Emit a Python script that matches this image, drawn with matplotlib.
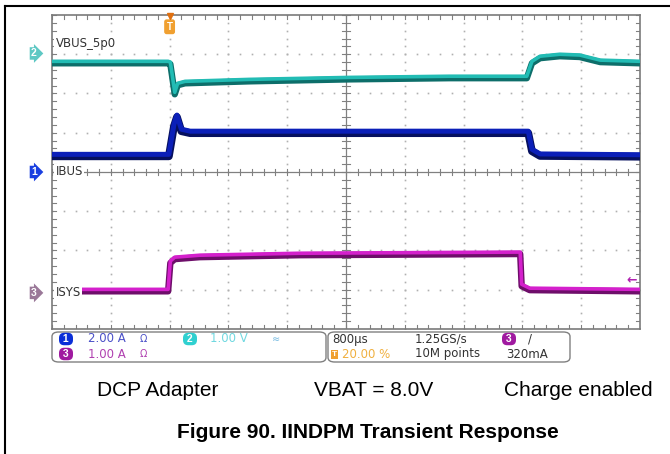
import numpy as np
import matplotlib.pyplot as plt
from matplotlib.patches import FancyBboxPatch

plt.rcParams['font.family'] = ['Liberation Sans', 'DejaVu Sans']

# Scope traces: time in ms (800 us/div, trigger at 20 %), level in divisions from screen centre
vbus_t = [-1.60, -0.02, 0.01, 0.07, 0.11, 0.21, 1.09, 2.45, 3.81, 4.86, 4.93, 5.04, 5.31, 5.58, 5.86, 6.40]
vbus_v = [2.80, 2.80, 2.78, 2.01, 2.24, 2.29, 2.34, 2.39, 2.42, 2.42, 2.80, 2.93, 2.98, 2.96, 2.83, 2.80]

ibus_t = [-1.60, -0.01, 0.06, 0.10, 0.16, 0.28, 4.88, 4.93, 5.04, 6.40]
ibus_v = [0.43, 0.43, 1.20, 1.43, 1.07, 1.02, 1.02, 0.56, 0.44, 0.42]

isys_t = [-1.22, -0.02, 0.01, 0.07, 0.41, 1.77, 4.77, 4.79, 4.90, 6.40]
isys_v = [-3.01, -3.01, -2.29, -2.19, -2.14, -2.09, -2.06, -2.88, -2.98, -3.01]

ch_labels = ['VBUS_5p0', 'IBUS', 'ISYS']
ch_offsets = [3.02, 0.0, -3.08]
trig_level = -2.75

caption = ['DCP Adapter', 'VBAT = 8.0V', 'Charge enabled']
title = 'Figure 90. IINDPM Transient Response'

W, H = 670, 454
fig = plt.figure(figsize=(W / 100, H / 100), dpi=100)


def fx(x):
    return x / W


def fy(y):
    return 1 - y / H


# outer frame
fig.add_artist(plt.Line2D([fx(5), fx(5)], [fy(6), fy(454)], color='black', lw=1.5))
fig.add_artist(plt.Line2D([fx(5), fx(670)], [fy(6), fy(6)], color='black', lw=1.5))

left, top, right, bottom = 52, 15, 640, 329
ax = fig.add_axes([fx(left), fy(bottom), (right - left) / W, (bottom - top) / H])
t0, t1 = -1.6, 6.4
ax.set_xlim(t0, t1)
ax.set_ylim(-4, 4)
ax.set_xticks([])
ax.set_yticks([])
for s in ax.spines.values():
    s.set_color('#7a7a7a')
    s.set_linewidth(1.2)

# dotted graticule
xdiv = 0.8
gx = [t0 + xdiv * i for i in range(1, 10) if i != 5]
gy = [j for j in range(-3, 4) if j != 0]
minor_x = np.arange(t0, t1 + 1e-9, xdiv / 5)
minor_y = np.arange(-4, 4 + 1e-9, 0.2)
for x in gx:
    ax.plot(np.full_like(minor_y, x), minor_y, ls='none', marker='s', ms=1.2, color='#b0b0b0', mec='none')
for y in gy:
    ax.plot(minor_x, np.full_like(minor_x, y), ls='none', marker='s', ms=1.2, color='#b0b0b0', mec='none')

# centre cross with ticks
tc = t0 + 5 * xdiv
ax.axhline(0, color='#808080', lw=0.9)
ax.axvline(tc, color='#808080', lw=0.9)
for x in minor_x:
    ax.plot([x, x], [-0.08, 0.08], color='#808080', lw=0.8)
    ax.plot([x, x], [-4, -3.9], color='#808080', lw=0.8)
    ax.plot([x, x], [4, 3.9], color='#808080', lw=0.8)
for y in minor_y:
    ax.plot([tc - 0.05, tc + 0.05], [y, y], color='#808080', lw=0.8)
    ax.plot([t0, t0 + 0.05], [y, y], color='#808080', lw=0.8)
    ax.plot([t1, t1 - 0.05], [y, y], color='#808080', lw=0.8)

# traces: dark edge plus coloured band
traces = [(vbus_t, vbus_v, '#22bcb4', '#0d6e6a', 4.0),
          (ibus_t, ibus_v, '#0b1fb8', '#06105e', 5.0),
          (isys_t, isys_v, '#d420cc', '#6e0e6a', 4.0)]
for t, v, c, dk, lw in traces:
    ax.plot(t, np.array(v) - 0.03, color=dk, lw=lw + 0.6, solid_joinstyle='round',
            solid_capstyle='butt', zorder=3)
    ax.plot(t, np.array(v) + 0.02, color=c, lw=lw - 1.4, solid_joinstyle='round',
            solid_capstyle='butt', zorder=4)

# channel labels inside graticule
for name, off in zip(ch_labels, ch_offsets):
    yy = off + (0.25 if name == 'VBUS_5p0' else 0.0)
    ax.text(t0 + 0.05, yy, name, fontsize=8.5, color='#333333', va='center', ha='left',
            family='DejaVu Sans', zorder=6,
            bbox=dict(boxstyle='square,pad=0.1', fc='white', ec='none'))

# channel markers left of graticule
markers = [('2', '#5ec8c4', ch_offsets[0]), ('1', '#1a3fe0', ch_offsets[1]), ('3', '#9a7898', ch_offsets[2])]
for num, c, off in markers:
    ax.text(-0.026, (off + 4) / 8, num, transform=ax.transAxes, fontsize=7.5, color='white',
            ha='right', va='center', fontweight='bold', clip_on=False,
            bbox=dict(boxstyle='rarrow,pad=0.12', fc=c, ec='none'))

# trigger marker and level
ax.text(0.0, 3.7, 'T', fontsize=7, color='white', fontweight='bold', ha='center', va='center',
        zorder=7, bbox=dict(boxstyle='round,pad=0.25', fc='#f0a030', ec='none'))
ax.plot([0.0], [3.97], marker='v', ms=5, color='#e07010', zorder=7, clip_on=False)
ax.text(t1 - 0.04, trig_level, '\u2190', fontsize=9, color='#b020b0', ha='right', va='center',
        fontweight='bold', zorder=7, family='DejaVu Sans')

# info boxes below graticule
for x0, x1 in [(52, 326), (328, 570)]:
    fig.add_artist(FancyBboxPatch((fx(x0), fy(362)), fx(x1 - x0), (362 - 332) / H,
                                  boxstyle='round,pad=0,rounding_size=0.01',
                                  transform=fig.transFigure, fc='white', ec='#808080', lw=1.0))


def pill(x, y, s, c):
    fig.text(fx(x), fy(y), s, fontsize=7.5, color='white', fontweight='bold', ha='center', va='center',
             bbox=dict(boxstyle='round,pad=0.12,rounding_size=0.5', fc=c, ec='none'))


pill(66, 339, ' 1 ', '#0a2fd8')
pill(66, 354, ' 3 ', '#a01aa0')
pill(190, 339, ' 2 ', '#30d0d0')
fig.text(fx(88), fy(339), '2.00 A', fontsize=8.5, color='#4a50c8', va='center', family='DejaVu Sans')
fig.text(fx(88), fy(354), '1.00 A', fontsize=8.5, color='#b040b0', va='center', family='DejaVu Sans')
fig.text(fx(140), fy(339), '\u03a9', fontsize=7, color='#4a50c8', va='center', family='DejaVu Sans')
fig.text(fx(140), fy(354), '\u03a9', fontsize=7, color='#b040b0', va='center', family='DejaVu Sans')
fig.text(fx(210), fy(339), '1.00 V', fontsize=8.5, color='#70d8e0', va='center', family='DejaVu Sans')
fig.text(fx(272), fy(339), '\u2248', fontsize=7, color='#70b8e0', va='center', family='DejaVu Sans')

fig.text(fx(332), fy(339), '800\u00b5s', fontsize=8.5, color='#333333', va='center', family='DejaVu Sans')
fig.text(fx(332), fy(354), 'T', fontsize=6, color='white', fontweight='bold', va='center',
         bbox=dict(boxstyle='square,pad=0.12', fc='#f0a030', ec='none'))
fig.text(fx(342), fy(354), '20.00 %', fontsize=8.5, color='#f0b040', va='center', family='DejaVu Sans')
fig.text(fx(415), fy(339), '1.25GS/s', fontsize=8.5, color='#333333', va='center', family='DejaVu Sans')
fig.text(fx(415), fy(354), '10M points', fontsize=8.5, color='#333333', va='center', family='DejaVu Sans')
pill(509, 339, ' 3 ', '#a01aa0')
fig.text(fx(528), fy(339), '/', fontsize=8.5, color='#333333', va='center', family='DejaVu Sans')
fig.text(fx(506), fy(354), '320mA', fontsize=8.5, color='#333333', va='center', family='DejaVu Sans')

# caption
for s, x in zip(caption, [158, 374, 578]):
    fig.text(fx(x), fy(390), s, fontsize=15, ha='center', va='center')
fig.text(fx(368), fy(432), title, fontsize=15, fontweight='bold', ha='center', va='center')

fig.savefig('out.png', dpi=100)
